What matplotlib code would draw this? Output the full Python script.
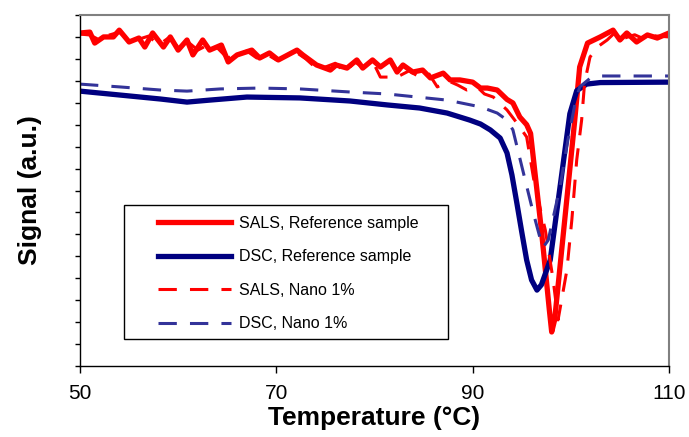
import matplotlib
matplotlib.use('Agg')
import matplotlib.pyplot as plt
from matplotlib.patches import Rectangle

plt.rcParams['font.family'] = ['Liberation Sans', 'DejaVu Sans']

# SALS, amostra de referência (linha grossa vermelha)
sals_ref_t = [50.0, 51.0, 51.5, 52.4, 53.4, 54.0, 55.0, 56.0, 56.6, 57.4, 58.5, 59.2, 60.0, 60.9,
              61.5, 62.5, 63.2, 64.4, 65.1, 66.0, 67.5, 68.3, 69.3, 70.2, 72.1, 72.7, 74.1, 75.5,
              76.1, 77.2, 78.2, 78.8, 79.8, 80.6, 81.6, 82.3, 82.9, 83.9, 84.9, 85.7, 87.0, 87.7,
              88.7, 90.0, 90.8, 91.5, 92.5, 93.5, 94.1, 94.8, 95.5, 95.9, 97.0, 97.8, 98.05,
              98.35, 99.5, 100.4, 100.9, 101.7, 103.0, 104.3, 105.0, 105.7, 106.7, 107.8,
              108.8, 110.0]
sals_ref_s = [15.18, 15.22, 14.72, 15.00, 15.00, 15.31, 14.77, 14.95, 14.54, 15.18, 14.54, 15.00,
              14.40, 14.86, 14.18, 14.86, 14.40, 14.63, 13.86, 14.18, 14.40, 14.04, 14.27, 13.95,
              14.40, 14.18, 13.72, 13.49, 13.72, 13.58, 13.95, 13.58, 13.95, 13.63, 13.95, 13.40,
              13.72, 13.40, 13.49, 13.13, 13.35, 13.04, 13.04, 12.94, 12.67, 12.67, 12.58, 12.15,
              11.99, 11.35, 11.0, 10.6, 6.2, 2.6, 1.55, 2.1, 7.2, 11.21, 13.63, 14.72, 15.0, 15.31,
              14.86, 15.18, 14.77, 15.09, 14.95, 15.18]

# DSC, amostra de referência (linha grossa azul marinho)
dsc_ref_t = [50.0, 54.1, 58.2, 60.9, 63.2, 67.0, 72.4, 77.5, 81.3, 84.6, 87.4, 89.7, 90.8, 91.8,
             92.8, 93.5, 94.0, 94.5, 95.0, 95.5, 96.0, 96.55, 97.0, 97.9, 98.9, 99.9, 100.6,
             101.6, 103.0, 110.0]
dsc_ref_s = [12.53, 12.35, 12.17, 12.03, 12.12, 12.26, 12.22, 12.08, 11.90, 11.76, 11.53, 11.21,
             11.03, 10.76, 10.39, 9.71, 8.71, 7.43, 6.11, 4.83, 3.92, 3.46, 3.70, 4.83, 8.16,
             11.5, 12.55, 12.85, 12.92, 12.94]

# SALS, Nano 1% (tracejada vermelha)
sals_nano_t = [50.0, 51.0, 52.0, 53.0, 54.0, 55.0, 56.0, 57.0, 58.0, 59.0, 60.0, 61.0, 62.0, 63.0,
               64.0, 65.0, 66.0, 67.0, 68.0, 69.0, 70.0, 71.0, 72.0, 73.0, 74.0, 75.0, 76.0,
               77.0, 78.0, 79.0, 80.0, 80.6, 82.3, 83.5, 84.5, 85.5, 86.4, 87.5, 88.5, 89.4,
               90.5, 91.2, 92.1, 93.5, 94.5, 95.5, 96.35, 97.4, 98.2, 98.7, 99.6, 100.1, 100.6,
               101.1, 101.4, 101.95, 102.7, 103.7, 104.5, 105.5, 106.5, 107.5, 108.5, 110.0]
sals_nano_s = [15.13, 15.09, 14.86, 15.09, 15.22, 14.86, 14.90, 15.04, 14.63, 14.95, 14.54, 14.77,
               14.40, 14.63, 14.50, 14.04, 14.18, 14.36, 14.04, 14.22, 13.95, 14.13, 14.31, 14.00,
               13.60, 13.63, 13.80, 13.40, 13.86, 13.55, 13.72, 13.17, 13.17, 13.45, 13.20, 13.35,
               12.72, 13.00, 12.80, 12.58, 12.70, 12.40, 12.26, 11.67, 11.08, 10.44, 8.16, 6.2,
               3.92, 2.10, 4.38, 6.65, 9.39, 11.21, 12.9, 14.08, 14.54, 14.86, 15.20, 14.95,
               15.10, 14.90, 15.05, 15.00]

# DSC, Nano 1% (tracejada azul)
dsc_nano_t = [50.0, 54.1, 58.2, 60.9, 64.3, 68.3, 72.4, 77.5, 81.3, 87.4, 90.8, 92.5, 93.5, 94.1,
              95.1, 96.1, 97.0, 97.2, 97.7, 98.9, 99.7, 100.4, 100.9, 102.0, 103.0, 110.0]
dsc_nano_s = [12.85, 12.72, 12.58, 12.53, 12.63, 12.67, 12.63, 12.49, 12.40, 12.12, 11.81, 11.53,
              11.21, 10.76, 8.93, 7.11, 5.61, 5.42, 5.74, 8.16, 10.3, 11.9, 12.72, 13.13, 13.22,
              13.22]

x_ticks = [50, 70, 90, 110]

fig = plt.figure(figsize=(6.89, 4.37), dpi=100)
ax = fig.add_axes([80/689, 71/437, 589/689, 351/437])

l1, = ax.plot(sals_ref_t, sals_ref_s, color='#FF0000', lw=3.8, solid_joinstyle='round')
l2, = ax.plot(dsc_ref_t, dsc_ref_s, color='#000080', lw=3.8, solid_joinstyle='round')
l3, = ax.plot(sals_nano_t, sals_nano_s, color='#FF0000', lw=2.2, dashes=(6, 4.3))
l4, = ax.plot(dsc_nano_t, dsc_nano_s, color='#333399', lw=2.2, dashes=(6, 4.3))

ax.set_xlim(50, 110)
ax.set_ylim(0, 16)
ax.set_xticks(x_ticks)
ax.set_xticklabels([str(t) for t in x_ticks])
ax.set_yticks(range(0, 17))
ax.set_yticklabels([])
ax.tick_params(axis='x', direction='out', length=5, width=1, labelsize=15, pad=8)
ax.tick_params(axis='y', direction='out', length=3.5, width=1)

for s in ['left', 'bottom']:
    ax.spines[s].set_color('black')
    ax.spines[s].set_linewidth(1.0)
for s in ['top', 'right']:
    ax.spines[s].set_color('#808080')
    ax.spines[s].set_linewidth(1.5)

ax.set_xlabel('Temperature (°C)', fontsize=19, fontweight='bold', labelpad=2)
ax.set_ylabel('Signal (a.u.)', fontsize=19, fontweight='bold')
ax.yaxis.set_label_coords(-0.065, 0.5)

# Caixa da legenda desenhada à parte (estilo Excel)
ax.add_patch(Rectangle((44/589, 27/351), 324/589, 134/351, transform=ax.transAxes,
                       fill=True, facecolor='white', edgecolor='black', lw=1.0, zorder=5))
leg = ax.legend((l1, l2, l3, l4),
                ('SALS, Reference sample', 'DSC, Reference sample', 'SALS, Nano 1%', 'DSC, Nano 1%'),
                loc='upper left', bbox_to_anchor=(78/589, 150/351), frameon=False,
                fontsize=11.5, handlelength=4.6, handletextpad=0.45, labelspacing=1.15,
                borderpad=0, borderaxespad=0)
leg.set_zorder(6)

fig.savefig('out.png', dpi=100)
